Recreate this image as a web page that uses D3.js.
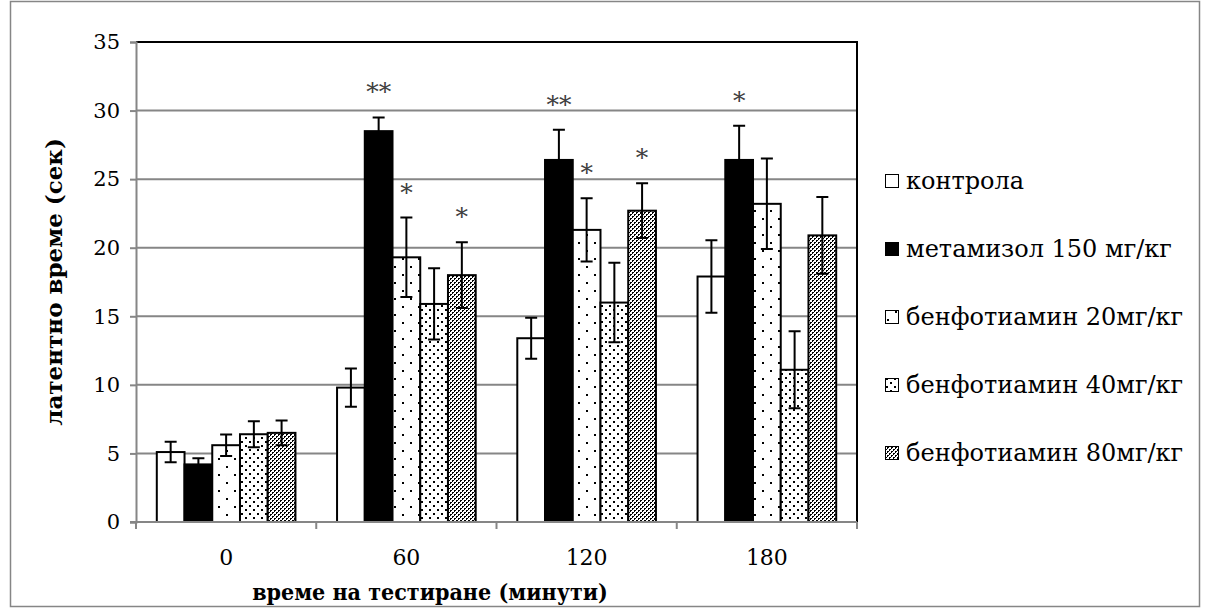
<!DOCTYPE html>
<html>
<head>
<meta charset="utf-8">
<script src="https://cdn.jsdelivr.net/npm/d3@7"></script>
<style>
  body { margin: 0; background: #fff; }
</style>
</head>
<body>
<div id="chart"></div>
<script>
const categories = ['0', '60', '120', '180'];
const seriesNames = [
  'контрола',
  'метамизол 150 мг/кг',
  'бенфотиамин 20мг/кг',
  'бенфотиамин 40мг/кг',
  'бенфотиамин 80мг/кг'
];
const control = [5.1, 9.8, 13.4, 17.9];
const metamizol = [4.2, 28.5, 26.4, 26.4];
const benf20 = [5.6, 19.3, 21.3, 23.2];
const benf40 = [6.4, 15.9, 16.0, 11.1];
const benf80 = [6.5, 18.0, 22.7, 20.9];
const controlErr = [0.75, 1.4, 1.5, 2.65];
const metamizolErr = [0.45, 1.0, 2.2, 2.5];
const benf20Err = [0.78, 2.9, 2.3, 3.3];
const benf40Err = [0.95, 2.6, 2.9, 2.8];
const benf80Err = [0.9, 2.4, 2.0, 2.8];
const controlStars = ['', '', '', ''];
const metamizolStars = ['', '**', '**', '*'];
const benf20Stars = ['', '*', '*', ''];
const benf40Stars = ['', '', '', ''];
const benf80Stars = ['', '*', '*', ''];
const yTicks = [0, 5, 10, 15, 20, 25, 30, 35];

const values = [control, metamizol, benf20, benf40, benf80];
const errors = [controlErr, metamizolErr, benf20Err, benf40Err, benf80Err];
const stars = [controlStars, metamizolStars, benf20Stars, benf40Stars, benf80Stars];
const fills = ['#fff', '#000', 'url(#p20)', 'url(#p40)', 'url(#p80)'];
const font = '"DejaVu Serif", serif';
const fontNarrow = '"DejaVu Serif Condensed", "DejaVu Serif", serif';

const width = 1209, height = 609;
const margin = { top: 42, right: 352, bottom: 87, left: 136 };

const svg = d3.select('#chart').append('svg')
  .attr('width', width).attr('height', height)
  .style('font-family', font);

// fill patterns like the Excel ones
const defs = svg.append('defs');
const p20 = defs.append('pattern').attr('id', 'p20')
  .attr('patternUnits', 'userSpaceOnUse').attr('width', 16).attr('height', 16);
p20.append('rect').attr('width', 16).attr('height', 16).attr('fill', '#fff');
[[2, 2], [10, 10]].forEach(([px, py]) => p20.append('rect')
  .attr('x', px).attr('y', py).attr('width', 2).attr('height', 2).attr('fill', '#000'));

const p40 = defs.append('pattern').attr('id', 'p40')
  .attr('patternUnits', 'userSpaceOnUse').attr('width', 8).attr('height', 8);
p40.append('rect').attr('width', 8).attr('height', 8).attr('fill', '#fff');
[[1, 1], [5, 5]].forEach(([px, py]) => p40.append('rect')
  .attr('x', px).attr('y', py).attr('width', 2).attr('height', 2).attr('fill', '#000'));

const p80 = defs.append('pattern').attr('id', 'p80')
  .attr('patternUnits', 'userSpaceOnUse').attr('width', 4).attr('height', 4);
p80.append('rect').attr('width', 4).attr('height', 4).attr('fill', '#fff');
[[0, 0], [1, 0], [0, 1], [2, 2], [3, 2], [2, 3]].forEach(([px, py]) => p80.append('rect')
  .attr('x', px).attr('y', py).attr('width', 1).attr('height', 1).attr('fill', '#000'));

// outer chart border
svg.append('rect')
  .attr('x', 10.5).attr('y', 1.5).attr('width', 1189).attr('height', 605)
  .attr('fill', 'none').attr('stroke', '#868686').attr('stroke-width', 1.5);

const x0 = d3.scaleBand()
  .domain(categories)
  .range([margin.left, width - margin.right]);

const x1 = d3.scaleBand()
  .domain(d3.range(seriesNames.length))
  .range([0, x0.bandwidth()])
  .paddingInner(0)
  .paddingOuter(0.75);

const y = d3.scaleLinear()
  .domain([0, 35])
  .range([height - margin.bottom, margin.top]);

// gridlines
svg.append('g')
  .selectAll('line')
  .data(yTicks.slice(1))
  .join('line')
  .attr('x1', margin.left).attr('x2', width - margin.right)
  .attr('y1', d => y(d)).attr('y2', d => y(d))
  .attr('stroke', '#868686').attr('stroke-width', 2);

// plot area frame (top and right edges)
svg.append('path')
  .attr('d', `M${margin.left},${y(35)}H${width - margin.right}V${y(0)}`)
  .attr('fill', 'none').attr('stroke', '#000').attr('stroke-width', 2);

// bars
const groups = svg.append('g')
  .selectAll('g')
  .data(values)
  .join('g');

groups.selectAll('rect')
  .data((d, i) => d.map((v, j) => ({ s: i, c: categories[j], v })))
  .join('rect')
  .attr('x', d => x0(d.c) + x1(d.s))
  .attr('y', d => y(d.v))
  .attr('width', x1.bandwidth())
  .attr('height', d => y(0) - y(d.v))
  .attr('fill', d => fills[d.s])
  .attr('stroke', '#000')
  .attr('stroke-width', 2);

// error bars
const errData = values.flatMap((vals, i) => vals.map((v, j) => ({
  s: i, c: categories[j], v, e: errors[i][j], star: stars[i][j]
})));
const cx = d => x0(d.c) + x1(d.s) + x1.bandwidth() / 2;

const eb = svg.append('g').attr('stroke', '#000').attr('stroke-width', 2);
eb.selectAll('path')
  .data(errData)
  .join('path')
  .attr('fill', 'none')
  .attr('d', d => {
    const c = cx(d), t = y(d.v + d.e), b = y(d.v - d.e);
    return `M${c - 6},${t}H${c + 6}M${c},${t}V${b}M${c - 6},${b}H${c + 6}`;
  });

// significance stars
svg.append('g')
  .selectAll('text')
  .data(errData.filter(d => d.star))
  .join('text')
  .attr('x', cx)
  .attr('y', d => y(d.v + d.e) - 17)
  .attr('text-anchor', 'middle')
  .attr('font-size', 25)
  .attr('fill', '#404040')
  .style('font-family', font)
  .text(d => d.star);

// y axis
const yAxis = svg.append('g')
  .attr('transform', `translate(${margin.left},0)`)
  .call(d3.axisLeft(y).tickValues(yTicks).tickSize(6).tickPadding(10));
yAxis.select('.domain').attr('stroke', '#868686').attr('stroke-width', 2);
yAxis.selectAll('.tick line').attr('stroke', '#868686').attr('stroke-width', 2);
yAxis.selectAll('.tick text').attr('font-size', 21).attr('fill', '#000')
  .style('font-family', font);

// x axis: ticks on category boundaries
const xAxis = svg.append('g')
  .attr('transform', `translate(0,${y(0)})`);
xAxis.append('line')
  .attr('x1', margin.left - 6).attr('x2', width - margin.right)
  .attr('stroke', '#868686').attr('stroke-width', 2);
xAxis.selectAll('.bound')
  .data(categories.map(c => x0(c)).concat([x0.range()[1]]))
  .join('line')
  .attr('class', 'bound')
  .attr('x1', d => d).attr('x2', d => d)
  .attr('y1', 0).attr('y2', 7)
  .attr('stroke', '#868686').attr('stroke-width', 2);
xAxis.selectAll('text')
  .data(categories)
  .join('text')
  .attr('x', d => x0(d) + x0.bandwidth() / 2)
  .attr('y', 43)
  .attr('text-anchor', 'middle')
  .attr('font-size', 22)
  .style('font-family', font)
  .text(d => d);

// axis titles
svg.append('text')
  .attr('x', 430)
  .attr('y', 600)
  .attr('text-anchor', 'middle')
  .attr('font-size', 23).attr('font-weight', 'bold')
  .style('font-family', fontNarrow)
  .text('време на тестиране (минути)');

svg.append('text')
  .attr('transform', `translate(62,${(y(0) + y(35)) / 2}) rotate(-90)`)
  .attr('text-anchor', 'middle')
  .attr('font-size', 23).attr('font-weight', 'bold')
  .style('font-family', font)
  .text('латентно време (сек)');

// legend
const legend = svg.append('g')
  .attr('transform', 'translate(885,181)');
const item = legend.selectAll('g')
  .data(seriesNames)
  .join('g')
  .attr('transform', (d, i) => `translate(0,${i * 68})`);
item.append('rect')
  .attr('x', 0.5).attr('y', -6.5).attr('width', 13).attr('height', 13)
  .attr('fill', (d, i) => fills[i])
  .attr('stroke', '#000').attr('stroke-width', 1);
item.append('text')
  .attr('x', 21).attr('y', 8)
  .attr('font-size', 24)
  .style('font-family', font)
  .text(d => d);
</script>
</body>
</html>
